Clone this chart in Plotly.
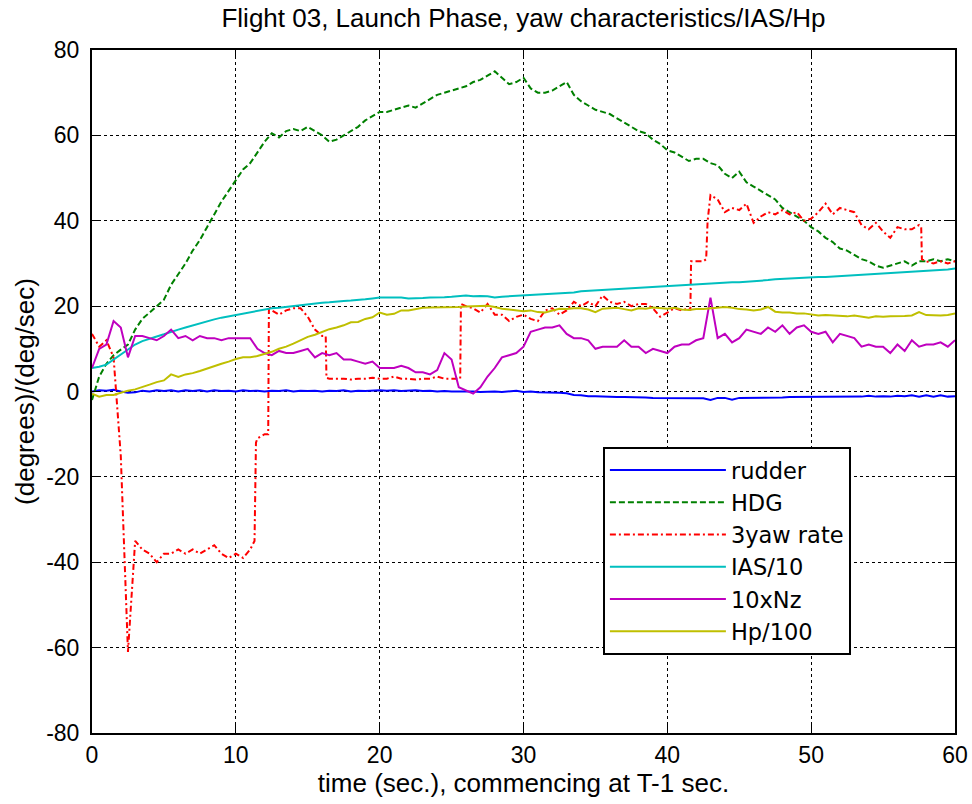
import plotly.graph_objects as go

# time axis: samples every 0.5 s from 0 to 60 s
time_s = [round(0.5 * i, 1) for i in range(121)]

rudder = [
    0, 0.3, 0.2, 0.4, 0, -0.3, -0.2, 0.2, 0, 0.3,
    0.1, 0.3, 0, 0.3, 0.1, 0.3, 0, 0.3, 0.1, 0.2,
    0, 0.3, 0.1, 0.2, 0, 0.2, 0.1, 0.3, 0, 0.2,
    0.1, 0.2, 0, 0.2, 0.1, 0.3, 0, 0.2, 0.1, 0.2,
    0.3, 0.2, 0.3, 0.1, 0.2, 0.3, 0.1, 0.2, 0, 0.1,
    0, 0, 0.1, 0, -0.1, 0, 0, -0.1, 0, 0.2,
    -0.1, 0, -0.2, -0.2, -0.3, -0.3, -0.4, -0.8, -0.9, -1.1,
    -1.1, -1.2, -1.2, -1.3, -1.3, -1.3, -1.3, -1.4, -1.5, -1.5,
    -1.5, -1.6, -1.6, -1.6, -1.6, -1.6, -2.0, -1.5, -1.5, -1.9,
    -1.5, -1.5, -1.5, -1.4, -1.4, -1.4, -1.4, -1.3, -1.3, -1.3,
    -1.2, -1.2, -1.3, -1.2, -1.2, -1.2, -1.2, -1.2, -1.0, -1.2,
    -1.1, -1.2, -1.0, -1.1, -0.9, -1.2, -0.9, -1.2, -0.9, -1.2,
    -1.1,
]

hdg = [
    -2, 3.5, 6.5, 8.5, 9.8, 11, 14.5, 17, 18.5, 20,
    21.5, 25, 27.5, 30, 33, 35.5, 38.5, 41.5, 44.5, 47,
    49.5, 52, 53.5, 56, 58.5, 60.5, 59.5, 61, 61.5, 61,
    62, 61, 60, 58.5, 59, 60, 61, 62, 63.5, 64.5,
    65.5, 65.5, 66, 66.5, 67, 66.5, 67.5, 68.5, 69.5, 70,
    70.5, 71, 71.5, 72.5, 73, 74, 75, 73.5, 72, 72.5,
    73.5, 71, 70, 70, 70.5, 71.5, 72.5, 69.5, 68, 67,
    66, 65.5, 65, 64, 63, 62, 61, 60.5, 59, 58,
    56.5, 56, 55, 54, 54.5, 54.5, 53.5, 53, 51, 50,
    51.5, 49, 48, 47, 46, 45, 43, 42, 41, 40,
    38.5, 37.5, 36, 35, 33.5, 33, 32, 31, 30.5, 29.5,
    29, 29.5, 30, 30.5, 29.5, 30.5, 30.5, 31, 30.5, 31,
    30.5,
]

yaw_rate3 = [
    13.5, 10.5, 12, 8, -15, -61, -35, -37, -38, -40,
    -38, -38, -37, -38, -37, -38, -37, -36, -38, -39,
    -38, -39, -37, -11, -10, 19, 18, 19, 19.5, 19.5,
    17.5, 14.5, 13, 3, 3, 3, 2.8, 3, 3, 3.2,
    3, 3, 3.5, 3, 3, 2.8, 3, 3, 3.5, 3,
    3, 3, 20, 19.5, 18.5, 20.5, 18, 18, 16.5, 17.5,
    18, 17, 16.5, 19, 19.5, 18, 19, 21, 20, 21,
    20, 22.5, 21, 20.5, 21, 20, 20.5, 20.5, 19.5, 17.5,
    18.5, 19.5, 19, 19.5, 30.5, 30.5, 46, 45, 42, 43,
    42.5, 44, 39.5, 41, 42, 41.5, 42.5, 41.5, 42, 40,
    40.5, 42, 44, 41.5, 43, 42.5, 42, 39, 38, 39.5,
    37.5, 36, 38.5, 38, 38, 39, 30.5, 30, 30.5, 30,
    30.5,
]
# extra samples of the yaw-rate trace read at its sharp steps
yaw_step_t = [11.3, 11.4, 12.25, 12.3, 16.25, 16.3, 25.6, 25.65, 41.6, 41.65, 42.7, 42.8, 57.65, 57.7]
yaw_step_v = [-35, -12, -10, 20, 13, 3.2, 3, 20.5, 19, 30.5, 31, 40, 38.5, 31]

ias_10 = [
    5.5, 5.8, 6.3, 7.5, 8.8, 10, 11, 11.8, 12.4, 12.9,
    13.4, 14, 14.5, 15, 15.5, 16, 16.5, 16.9, 17.3, 17.6,
    18, 18.3, 18.6, 18.9, 19.2, 19.5, 19.6, 19.8, 20, 20.3,
    20.5, 20.6, 20.8, 20.9, 21.1, 21.2, 21.3, 21.4, 21.6, 21.8,
    22, 22, 22, 22, 21.8, 21.8, 21.9, 22, 22, 22.1,
    22.2, 22.4, 22.5, 22.3, 22.4, 22.3, 22, 22.2, 22.3, 22.3,
    22.4, 22.5, 22.6, 22.7, 22.8, 23, 23.1, 23.2, 23.5, 23.6,
    23.7, 23.8, 23.9, 24, 24.1, 24.2, 24.4, 24.5, 24.6, 24.7,
    24.8, 24.8, 24.9, 25, 25.1, 25.2, 25.3, 25.4, 25.5, 25.6,
    25.6, 25.7, 25.8, 26, 26.1, 26.3, 26.4, 26.5, 26.6, 26.7,
    26.7, 26.8, 26.8, 26.9, 27, 27.1, 27.2, 27.4, 27.5, 27.6,
    27.7, 27.8, 27.9, 28, 28, 28.1, 28.2, 28.3, 28.4, 28.6,
    28.8,
]

nz_10 = [
    5.5, 10, 11, 16.5, 15, 8, 13, 13, 12.5, 12,
    13, 14.5, 12.5, 13, 12, 13, 12.5, 12.5, 12, 12.5,
    12.5, 12.5, 12.5, 10, 9, 8.5, 9.5, 9, 9, 9.5,
    10, 8, 9, 8.5, 9, 7.5, 7.5, 7, 6.5, 7,
    5.5, 5.5, 5.5, 6, 5.5, 4.5, 4.5, 4, 5, 9,
    7.5, 1, 0.2, -0.5, 1, 3.5, 5.5, 8, 8.5, 9,
    10.5, 14, 14.5, 15, 15, 15.5, 13.5, 12.5, 12.5, 12,
    10, 10.5, 10.5, 10.5, 12, 10.5, 10.5, 9, 10, 9.5,
    9, 10.5, 11, 11, 12, 12.5, 22, 12.5, 13.5, 11.5,
    12.5, 14.5, 14, 13.5, 15, 14, 15.5, 13.5, 15, 15.5,
    14, 13.5, 14, 11.5, 13.5, 13, 12.5, 10.5, 11, 10.5,
    10.5, 9, 11, 9.5, 12, 10.5, 11, 11, 11.5, 10.5,
    12,
]

hp_100 = [
    -0.5, -1.2, -0.8, -0.8, -0.3, 0.2, 0.5, 1, 1.6, 2.2,
    2.6, 4, 3.4, 4, 4.3, 4.8, 5.4, 6, 6.5, 7,
    7.6, 8, 8, 8.3, 8.8, 9.3, 10, 10.5, 11.2, 12,
    12.8, 13.3, 14, 14.6, 15, 15.5, 16.2, 16.3, 17, 17.4,
    18.5, 18, 18.2, 19, 19, 19.3, 19.6, 19.7, 19.7, 19.8,
    19.8, 19.8, 19.9, 20, 20, 20.1, 19.8, 19.4, 19.2, 19,
    18.8, 19, 18.6, 18.5, 19, 19.4, 19.3, 19.5, 19.5, 19.2,
    18.6, 19.4, 19.5, 19.6, 19.3, 19, 19.5, 19.4, 19.7, 19.6,
    19.4, 19.6, 19.2, 19.1, 19.3, 19.3, 19.5, 19.6, 19.8, 19.6,
    19.3, 19.2, 19, 19.2, 19.8, 18.7, 18.5, 18.5, 18.3, 18.3,
    18, 17.8, 17.9, 17.8, 17.8, 17.6, 17.8, 17.5, 17.3, 17.6,
    17.5, 17.6, 17.6, 17.7, 17.8, 18.6, 17.9, 17.8, 17.8, 17.9,
    18.3,
]

series_names = ["rudder", "HDG", "3yaw rate", "IAS/10", "10xNz", "Hp/100"]
series_colors = ["#0000FF", "#008000", "#FF0000", "#00BFBF", "#BF00BF", "#BFBF00"]
series_dash = ["solid", "6px,3px", "6px,3px,2px,3px", "solid", "solid", "solid"]

x_ticks = [0, 10, 20, 30, 40, 50, 60]
y_ticks = [-80, -60, -40, -20, 0, 20, 40, 60, 80]

# merge the step samples into the yaw-rate trace
yaw_pairs = sorted(list(zip(time_s, yaw_rate3)) + list(zip(yaw_step_t, yaw_step_v)))
yaw_t = [p[0] for p in yaw_pairs]
yaw_v = [p[1] for p in yaw_pairs]

series_x = [time_s, time_s, yaw_t, time_s, time_s, time_s]
series_y = [rudder, hdg, yaw_v, ias_10, nz_10, hp_100]

FONT = "Liberation Sans, Arial, Helvetica, sans-serif"
LEG_FONT = "DejaVu Sans, Liberation Sans, sans-serif"

fig = go.Figure()
for name, xs, ys, col, dash in zip(series_names, series_x, series_y, series_colors, series_dash):
    fig.add_trace(go.Scatter(
        x=xs, y=ys, mode="lines", name=name,
        line=dict(color=col, width=2, dash=dash),
    ))

axis_common = dict(
    showline=True, linecolor="black", linewidth=2, mirror="ticks",
    ticks="inside", ticklen=8, tickwidth=1, tickcolor="black",
    showgrid=True, gridcolor="black", gridwidth=1, griddash="dot",
    zeroline=False, automargin=False,
    tickfont=dict(family=FONT, size=23, color="black"),
)

fig.update_layout(
    template="none",
    width=972, height=804, autosize=False,
    margin=dict(l=92, r=17, t=50, b=71, pad=0),
    paper_bgcolor="white", plot_bgcolor="white",
    title=dict(text="Flight 03, Launch Phase, yaw characteristics/IAS/Hp",
               x=0.5, xref="paper", xanchor="center", y=0.978, yanchor="middle",
               font=dict(family=FONT, size=26, color="black")),
    xaxis=dict(range=[0, 60], tickvals=x_ticks, ticktext=[str(v) for v in x_ticks],
               title=dict(text="time (sec.), commencing at T-1 sec.",
                          font=dict(family=FONT, size=26, color="black"), standoff=6),
               **axis_common),
    yaxis=dict(range=[-80, 80], tickvals=y_ticks, ticktext=[str(v) for v in y_ticks],
               title=dict(text="(degrees)/(deg/sec)",
                          font=dict(family=FONT, size=26, color="black"), standoff=4),
               ticklabelstandoff=6,
               **axis_common),
    legend=dict(x=0.592, y=0.419, xanchor="left", yanchor="top",
                bgcolor="white", bordercolor="black", borderwidth=2,
                font=dict(family=LEG_FONT, size=22.5, color="black"),
                itemwidth=116, tracegroupgap=0),
    showlegend=True,
)

fig.write_html("out.html")
